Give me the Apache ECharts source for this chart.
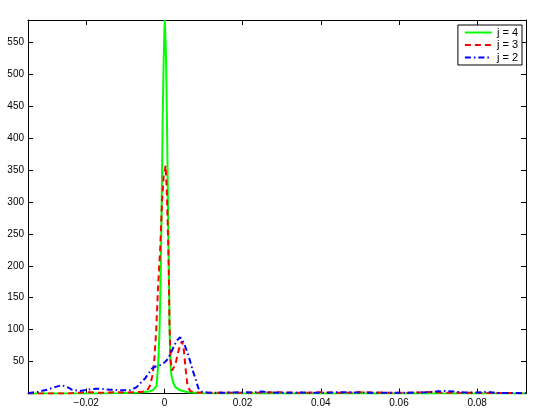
<!DOCTYPE html>
<html>
<head>
<meta charset="utf-8">
<script src="https://cdn.jsdelivr.net/npm/echarts@6/dist/echarts.min.js"></script>
<style>
html,body{margin:0;padding:0;background:#fff;}
#chart{width:554px;height:415px;}
</style>
</head>
<body>
<div id="chart"></div>
<script>
// ---- data ----
const seriesNames = ['j = 4', 'j = 3', 'j = 2'];

const greenX = [-0.0349, -0.02, -0.012, -0.008, -0.006, -0.004, -0.003, -0.002, -0.0016, -0.0013, -0.0011, -0.0009, -0.0007, -0.00045, -0.0002, 0, 0.0001, 0.0004, 0.00065, 0.0009, 0.0011, 0.0013, 0.0015, 0.0018, 0.0022, 0.0028, 0.004, 0.006, 0.01, 0.02, 0.0925];
const greenY = [0, 0, 0.5, 1, 1.5, 3, 5, 12, 45, 90, 140, 208, 300, 428, 520, 570, 585, 530, 428, 300, 208, 110, 50, 28, 18, 10, 5, 2, 0.5, 0, 0];

const redX = [-0.0349, -0.025, -0.022, -0.019, -0.016, -0.013, -0.01, -0.008, -0.006, -0.0045, -0.0037, -0.003, -0.0026, -0.0021, -0.0016, -0.0011, -0.0006, -0.0002, 0.0003, 0.0006, 0.0009, 0.0011, 0.0013, 0.0016, 0.0019, 0.0022, 0.0028, 0.0034, 0.004, 0.0045, 0.0049, 0.0054, 0.0059, 0.0066, 0.0075, 0.01, 0.015, 0.02, 0.025, 0.03, 0.035, 0.04, 0.045, 0.05, 0.055, 0.06, 0.065, 0.068, 0.072, 0.08, 0.0925];
const redY = [0, 0, 1, 2, 1, 2, 1.5, 2, 2.5, 4, 12, 30, 52, 99, 170, 224, 302, 340, 357, 320, 250, 200, 110, 52, 36, 33, 45, 62, 76, 82, 72, 40, 12, 4, 2, 1, 1.5, 1, 1.5, 2, 1, 2, 1, 2, 1.5, 1, 1.5, 2.5, 1, 1, 0.5];

const blueX = [-0.0349, -0.032, -0.03, -0.028, -0.0263, -0.0245, -0.0237, -0.0216, -0.0195, -0.0175, -0.0165, -0.015, -0.0139, -0.0125, -0.0113, -0.01, -0.0088, -0.0071, -0.0062, -0.0049, -0.004, -0.0032, -0.0024, -0.0012, -0.0003, 0.0006, 0.0012, 0.0019, 0.0026, 0.0032, 0.0036, 0.004, 0.0046, 0.0053, 0.006, 0.0066, 0.0073, 0.0079, 0.0087, 0.0095, 0.011, 0.014, 0.017, 0.02, 0.0225, 0.025, 0.027, 0.03, 0.035, 0.04, 0.045, 0.05, 0.055, 0.06, 0.065, 0.068, 0.07, 0.072, 0.074, 0.077, 0.08, 0.0825, 0.085, 0.0925];
const blueY = [0.5, 3, 6, 10, 13, 9, 6, 4, 6, 7.5, 7.5, 6.5, 6, 5.5, 5, 5, 5, 10, 16, 24, 32, 39, 42, 44, 47, 52, 58, 67, 76, 83, 86, 88, 84, 74, 62, 50, 35, 24, 8, 3, 1.5, 1, 1.5, 2, 1.5, 3, 1.5, 1, 1.5, 1, 2, 1.5, 1, 1, 1.5, 2, 3.5, 4, 3, 1.5, 1.5, 2.5, 1, 0.5];

const xTicks = [-0.02, 0, 0.02, 0.04, 0.06, 0.08];
const yTicks = [50, 100, 150, 200, 250, 300, 350, 400, 450, 500, 550];
const xRange = [-0.0349, 0.0925];
const yRange = [0, 585];

// ---- chart ----
const pairs = (xs, ys) => xs.map((x, i) => [x, ys[i]]);
const FONT = '"Liberation Sans", Arial, Helvetica, sans-serif';
const fmtX = v => {
  const r = Math.round(v * 100) / 100;
  if (r === 0) return '0';
  return (r < 0 ? '\u2212' : '') + Math.abs(r).toFixed(2);
};

const axisLineStyle = { show: true, onZero: false, lineStyle: { color: '#000', width: 1 } };
const tickStyle = (vals) => ({ show: true, inside: true, length: 5, customValues: vals, lineStyle: { color: '#000', width: 1 } });

const chart = echarts.init(document.getElementById('chart'), null, { renderer: 'canvas' });
chart.setOption({
  animation: false,
  backgroundColor: '#fff',
  grid: { left: 28, right: 28, top: 20, bottom: 21.5, containLabel: false },
  legend: {
    orient: 'vertical',
    right: 32,
    top: 25,
    itemWidth: 27,
    itemHeight: 10,
    itemGap: 1.5,
    itemTextGap: 3,
    padding: [2, 4, 2, 6],
    borderColor: '#000',
    borderWidth: 1,
    borderRadius: 0,
    backgroundColor: '#fff',
    itemStyle: { opacity: 0, borderWidth: 0 },
    textStyle: { fontSize: 11, color: '#000', fontFamily: FONT, lineHeight: 11 },
    data: seriesNames
  },
  xAxis: [{
    type: 'value', min: xRange[0], max: xRange[1], position: 'bottom',
    axisLine: axisLineStyle,
    axisTick: tickStyle(xTicks),
    axisLabel: { customValues: xTicks, formatter: fmtX, fontSize: 10, color: '#000', fontFamily: FONT, margin: 5 },
    splitLine: { show: false }
  }, {
    type: 'value', min: xRange[0], max: xRange[1], position: 'top',
    axisLine: axisLineStyle,
    axisTick: tickStyle(xTicks),
    axisLabel: { show: false },
    splitLine: { show: false }
  }],
  yAxis: [{
    type: 'value', min: yRange[0], max: yRange[1], position: 'left',
    axisLine: axisLineStyle,
    axisTick: tickStyle(yTicks),
    axisLabel: { customValues: yTicks, fontSize: 10, color: '#000', fontFamily: FONT, margin: 4 },
    splitLine: { show: false }
  }, {
    type: 'value', min: yRange[0], max: yRange[1], position: 'right',
    axisLine: axisLineStyle,
    axisTick: tickStyle(yTicks),
    axisLabel: { show: false },
    splitLine: { show: false }
  }],
  series: [
    { name: seriesNames[0], type: 'line', data: pairs(greenX, greenY), showSymbol: false, symbol: 'none',
      color: '#00ff00', lineStyle: { color: '#00ff00', width: 2, type: 'solid' } },
    { name: seriesNames[1], type: 'line', data: pairs(redX, redY), showSymbol: false, symbol: 'none',
      color: '#ff0000', lineStyle: { color: '#ff0000', width: 2, type: [6, 4] } },
    { name: seriesNames[2], type: 'line', data: pairs(blueX, blueY), showSymbol: false, symbol: 'none',
      color: '#0000ff', lineStyle: { color: '#0000ff', width: 2, type: [6, 3, 1.5, 3] } }
  ]
});
</script>
</body>
</html>
